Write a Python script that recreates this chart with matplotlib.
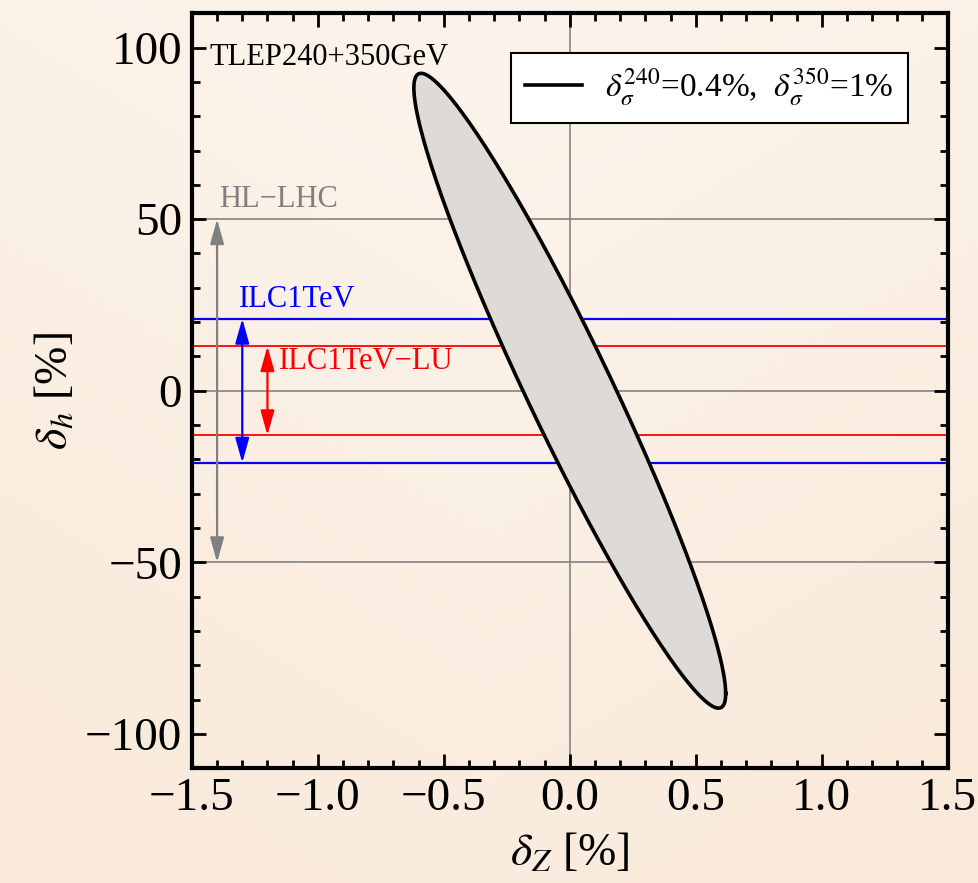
import numpy as np
import matplotlib
matplotlib.use("Agg")
import matplotlib.pyplot as plt
from matplotlib.ticker import MultipleLocator, FuncFormatter

plt.rcParams['font.family'] = ['Liberation Serif', 'DejaVu Serif']
plt.rcParams['mathtext.fontset'] = 'stix'

# ellipse TLEP240+350GeV (centre and covariance in dZ [%], dh [%])
centre = [0.0, 0.0]
var_z = 0.383
var_h = 8556.0
cov_zh = -54.6

# bands (half widths in dh [%]) and where the arrows sit in dZ
bands = ["HL−LHC", "ILC1TeV", "ILC1TeV−LU"]
band_half = [50, 21, 13]
arrow_x = [-1.4, -1.3, -1.2]
band_col = ["#808080", "#0000ff", "#ff0000"]

fig = plt.figure(figsize=(9.79, 8.83), dpi=100)

# pale peach background, lighter towards the top
bg = fig.add_axes([0, 0, 1, 1], zorder=-10)
yy, xx = np.mgrid[0:1:300j, -1:1:300j]
r = np.clip(0.75 * yy + 0.25 * np.abs(xx), 0, 1)
c0 = np.array([252, 244, 236]) / 255
c1 = np.array([249, 233, 217]) / 255
img = c0[None, None, :] * (1 - r[..., None]) + c1[None, None, :] * r[..., None]
bg.imshow(img, aspect='auto', extent=[0, 1, 0, 1])
bg.axis('off')

ax = fig.add_axes([0.196, 0.130, 0.772, 0.855])
ax.patch.set_alpha(0)

# grey reference lines
for y in [50, 0, -50]:
    ax.axhline(y, color='#7a7a7a', lw=1.1, zorder=1)
ax.axvline(0, color='#7a7a7a', lw=1.1, zorder=1)

for hw, col in zip(band_half[1:], band_col[1:]):
    lw = 1.6 if col == "#0000ff" else 1.3
    ax.axhline(hw, color=col, lw=lw, zorder=2)
    ax.axhline(-hw, color=col, lw=lw, zorder=2)

# ellipse
t = np.linspace(0, 2 * np.pi, 400)
L = np.linalg.cholesky(np.array([[var_z, cov_zh], [cov_zh, var_h]]))
pts = L @ np.vstack([np.cos(t), np.sin(t)])
ez = pts[0] + centre[0]
eh = pts[1] + centre[1]
ax.fill(ez, eh, facecolor='#dedad5', edgecolor='none', zorder=3)
line, = ax.plot(ez, eh, color='black', lw=2.6, zorder=4)

# arrows
for hw, x, col in zip(band_half, arrow_x, band_col):
    ax.annotate('', xy=(x, hw), xytext=(x, -hw),
                arrowprops=dict(arrowstyle='<|-|>,head_length=1.0,head_width=0.28',
                                color=col, lw=1.6, mutation_scale=15,
                                shrinkA=0, shrinkB=0), zorder=5)

ax.text(-1.39, 51.5, bands[0], color=band_col[0], fontsize=22, va='bottom', ha='left')
ax.text(-1.313, 22.5, bands[1], color=band_col[1], fontsize=22, va='bottom', ha='left')
ax.text(-1.155, 4.3, bands[2], color=band_col[2], fontsize=22, va='bottom', ha='left')
ax.text(-1.43, 94.8, "TLEP240+350GeV", color='black', fontsize=22, va='baseline', ha='left')

leg = ax.legend([line], [r'$\delta_\sigma^{240}$=0.4%,  $\delta_\sigma^{350}$=1%'],
                loc='upper right', bbox_to_anchor=(0.947, 0.948), borderaxespad=0,
                fontsize=24, fancybox=False, framealpha=1, edgecolor='black',
                handlelength=1.7, handletextpad=0.7, borderpad=0.42)
leg.get_frame().set_linewidth(1.5)

ax.set_xlim(-1.5, 1.5)
ax.set_ylim(-110, 110)
ax.xaxis.set_major_locator(MultipleLocator(0.5))
ax.xaxis.set_minor_locator(MultipleLocator(0.1))
ax.yaxis.set_major_locator(MultipleLocator(50))
ax.yaxis.set_minor_locator(MultipleLocator(10))
ax.xaxis.set_major_formatter(FuncFormatter(lambda v, p: ('%.1f' % v).replace('-', '−')))
ax.tick_params(which='both', direction='in', top=True, right=True, width=2)
ax.tick_params(which='major', length=10, labelsize=34, pad=7)
ax.tick_params(which='minor', length=6)
for s in ax.spines.values():
    s.set_linewidth(3)

ax.set_xlabel(r'$\delta_Z$ [%]', fontsize=33, labelpad=8)
ax.set_ylabel(r'$\delta_h$ [%]', fontsize=33, labelpad=6)

fig.savefig("out.png", dpi=100)
